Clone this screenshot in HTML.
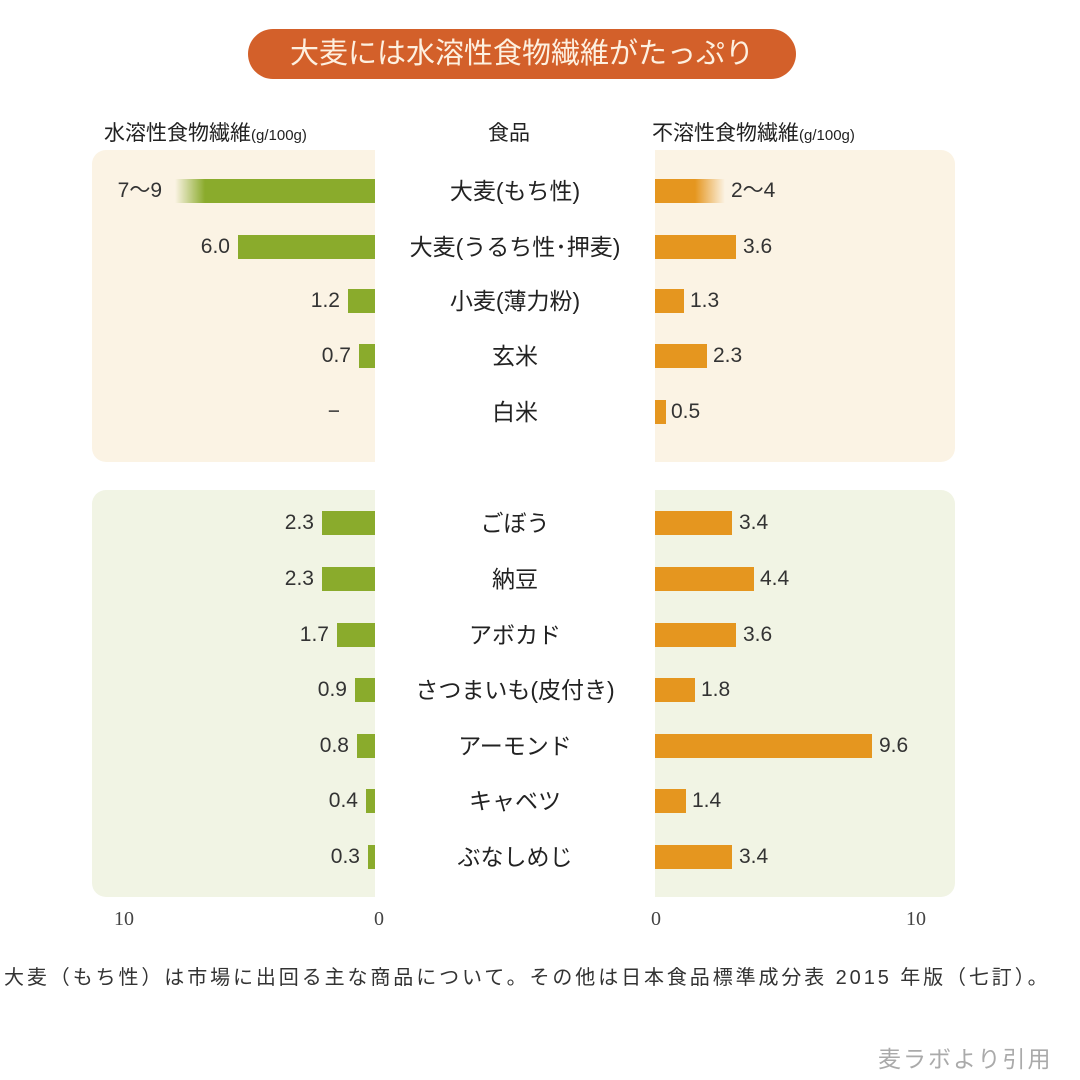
<!DOCTYPE html>
<html><head><meta charset="utf-8"><style>
body{margin:0;width:1080px;height:1080px;background:#fff;position:relative;overflow:hidden;font-family:"Liberation Sans","Noto Sans CJK JP",sans-serif;color:#333}
div{position:absolute}
.p{border-radius:14px}
.g{background:#8aab2c;height:24px}
.o{background:#e5961f;height:24px}
.lv{width:120px;text-align:right;font-size:21px;line-height:24px}
.rv{font-size:21px;line-height:24px}
.f{left:395px;width:240px;text-align:center;font-size:23px;line-height:24px;color:#222}
.ax{font-size:20px;color:#444;font-family:"Liberation Serif","Noto Serif CJK SC",serif}
</style></head><body>
<div style="left:248px;top:29px;width:548px;height:50px;border-radius:25px;background:#d3602a;color:#fdf0e0;font-size:29px;line-height:50px;text-align:center;font-weight:normal">大麦には水溶性食物繊維がたっぷり</div>
<div style="left:104px;top:117px;font-size:21px;color:#222">水溶性食物繊維<span style="font-size:15px">(g/100g)</span></div>
<div style="left:488px;top:117px;font-size:21px;color:#222">食品</div>
<div style="left:652px;top:117px;font-size:21px;color:#222">不溶性食物繊維<span style="font-size:15px">(g/100g)</span></div>
<div class="p" style="left:92px;top:150px;width:283px;height:312px;background:#fbf3e4;border-radius:14px 0 0 14px"></div>
<div class="p" style="left:655px;top:150px;width:300px;height:312px;background:#fbf3e4;border-radius:0 14px 14px 0"></div>
<div class="p" style="left:92px;top:490px;width:283px;height:407px;background:#f1f4e4;border-radius:14px 0 0 14px"></div>
<div class="p" style="left:655px;top:490px;width:300px;height:407px;background:#f1f4e4;border-radius:0 14px 14px 0"></div>

<div class="g" style="left:175px;top:179px;width:200px;background:linear-gradient(to right,rgba(138,171,44,0),#8aab2c 30px)"></div>
<div class="lv" style="left:42px;top:179px">7〜9</div>
<div class="f" style="top:179px">大麦(もち性)</div>
<div class="o" style="left:655px;top:179px;width:70px;background:linear-gradient(to right,#e5961f 40px,rgba(229,150,31,0))"></div>
<div class="rv" style="left:731px;top:179px">2〜4</div>

<div class="g" style="left:238px;top:235px;width:137px"></div>
<div class="lv" style="left:110px;top:235px">6.0</div>
<div class="f" style="top:235px">大麦(うるち性･押麦)</div>
<div class="o" style="left:655px;top:235px;width:81px"></div>
<div class="rv" style="left:743px;top:235px">3.6</div>

<div class="g" style="left:348px;top:289px;width:27px"></div>
<div class="lv" style="left:220px;top:289px">1.2</div>
<div class="f" style="top:289px">小麦(薄力粉)</div>
<div class="o" style="left:655px;top:289px;width:29px"></div>
<div class="rv" style="left:690px;top:289px">1.3</div>

<div class="g" style="left:359px;top:344px;width:16px"></div>
<div class="lv" style="left:231px;top:344px">0.7</div>
<div class="f" style="top:344px">玄米</div>
<div class="o" style="left:655px;top:344px;width:52px"></div>
<div class="rv" style="left:713px;top:344px">2.3</div>

<div class="lv" style="left:220px;top:400px">−</div>
<div class="f" style="top:400px">白米</div>
<div class="o" style="left:655px;top:400px;width:11px"></div>
<div class="rv" style="left:671px;top:400px">0.5</div>

<div class="g" style="left:322px;top:511px;width:53px"></div>
<div class="lv" style="left:194px;top:511px">2.3</div>
<div class="f" style="top:511px">ごぼう</div>
<div class="o" style="left:655px;top:511px;width:77px"></div>
<div class="rv" style="left:739px;top:511px">3.4</div>

<div class="g" style="left:322px;top:567px;width:53px"></div>
<div class="lv" style="left:194px;top:567px">2.3</div>
<div class="f" style="top:567px">納豆</div>
<div class="o" style="left:655px;top:567px;width:99px"></div>
<div class="rv" style="left:760px;top:567px">4.4</div>

<div class="g" style="left:337px;top:623px;width:38px"></div>
<div class="lv" style="left:209px;top:623px">1.7</div>
<div class="f" style="top:623px">アボカド</div>
<div class="o" style="left:655px;top:623px;width:81px"></div>
<div class="rv" style="left:743px;top:623px">3.6</div>

<div class="g" style="left:355px;top:678px;width:20px"></div>
<div class="lv" style="left:227px;top:678px">0.9</div>
<div class="f" style="top:678px">さつまいも(皮付き)</div>
<div class="o" style="left:655px;top:678px;width:40px"></div>
<div class="rv" style="left:701px;top:678px">1.8</div>

<div class="g" style="left:357px;top:734px;width:18px"></div>
<div class="lv" style="left:229px;top:734px">0.8</div>
<div class="f" style="top:734px">アーモンド</div>
<div class="o" style="left:655px;top:734px;width:217px"></div>
<div class="rv" style="left:879px;top:734px">9.6</div>

<div class="g" style="left:366px;top:789px;width:9px"></div>
<div class="lv" style="left:238px;top:789px">0.4</div>
<div class="f" style="top:789px">キャベツ</div>
<div class="o" style="left:655px;top:789px;width:31px"></div>
<div class="rv" style="left:692px;top:789px">1.4</div>

<div class="g" style="left:368px;top:845px;width:7px"></div>
<div class="lv" style="left:240px;top:845px">0.3</div>
<div class="f" style="top:845px">ぶなしめじ</div>
<div class="o" style="left:655px;top:845px;width:77px"></div>
<div class="rv" style="left:739px;top:845px">3.4</div>

<div class="ax" style="left:114px;top:908px">10</div>
<div class="ax" style="left:374px;top:908px">0</div>
<div class="ax" style="left:651px;top:908px">0</div>
<div class="ax" style="left:906px;top:908px">10</div>
<div style="left:4px;top:961px;font-size:20px;color:#333;white-space:nowrap;letter-spacing:2.9px">大麦（もち性）は市場に出回る主な商品について。その他は日本食品標準成分表 2015 年版（七訂）。</div>
<div style="left:878px;top:1040px;font-size:23px;color:#aaa;letter-spacing:2px">麦ラボより引用</div>
</body></html>
